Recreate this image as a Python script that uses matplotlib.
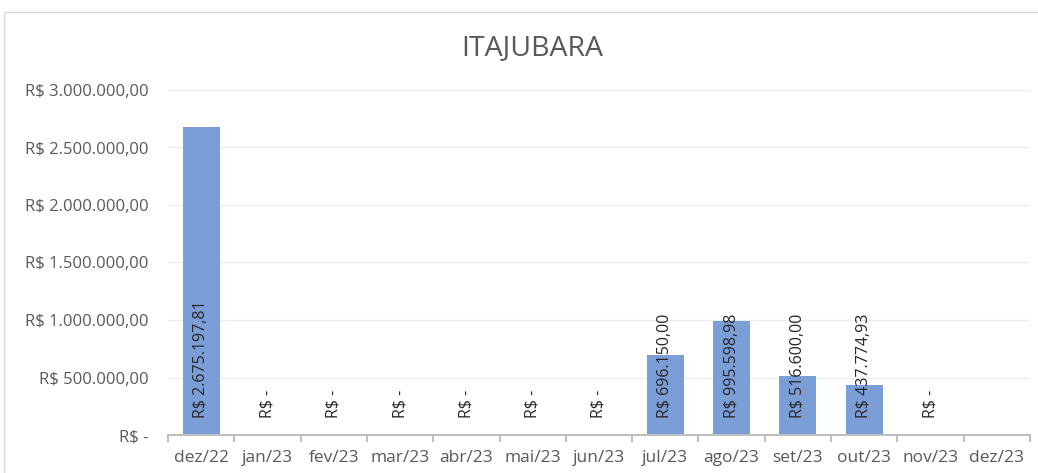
import numpy as np
import matplotlib.pyplot as plt
from matplotlib.patches import Rectangle
from matplotlib.ticker import FuncFormatter, FixedLocator

meses = ['dez/22', 'jan/23', 'fev/23', 'mar/23', 'abr/23', 'mai/23', 'jun/23',
         'jul/23', 'ago/23', 'set/23', 'out/23', 'nov/23', 'dez/23']
valores = [2675197.81, 0, 0, 0, 0, 0, 0, 696150.00, 995598.98, 516600.00,
           437774.93, 0, None]
yticks = [0, 500000, 1000000, 1500000, 2000000, 2500000, 3000000]


def brl(v):
    if v == 0:
        return 'R$ -'
    s = '{:,.2f}'.format(v)
    s = s.replace(',', 'X').replace('.', ',').replace('X', '.')
    return 'R$ ' + s


def main():
    plt.rcParams['font.family'] = ['Open Sans', 'DejaVu Sans']
    fig = plt.figure(figsize=(10.38, 4.73), dpi=100)
    fig.patches.append(Rectangle((4 / 1038, -0.01), 1.02, 1 - 12 / 473 + 0.01,
                                 transform=fig.transFigure, fill=False,
                                 edgecolor='#D9D9D9', linewidth=1))
    ax = fig.add_axes([168 / 1038, 38 / 473, 862 / 1038, 345 / 473])

    x = np.arange(len(meses))
    alturas = [v if v is not None else 0 for v in valores]
    ax.bar(x, alturas, width=0.56, color='#7C9ED7', zorder=2)

    for xi, v in zip(x, valores):
        if v is None:
            continue
        ax.annotate(brl(v), (xi, 0), xytext=(0, 12), textcoords='offset points',
                    rotation=90, ha='center', va='bottom',
                    fontsize=11.5, color='#262626', zorder=3)

    ax.set_xlim(-0.5, len(meses) - 0.5)
    ax.set_ylim(0, 3000000)
    ax.set_yticks(yticks)
    ax.yaxis.set_major_formatter(FuncFormatter(lambda v, p: brl(v)))
    ax.set_xticks(x)
    ax.set_xticklabels(meses)
    ax.xaxis.set_minor_locator(FixedLocator(np.arange(-0.5, len(meses), 1)))
    ax.tick_params(axis='x', which='major', length=0, labelsize=12.5,
                   labelcolor='#595959', pad=11)
    ax.tick_params(axis='x', which='minor', length=5, color='#BFBFBF', width=1.5)
    ax.tick_params(axis='y', length=0, labelsize=12, labelcolor='#595959', pad=14)

    ax.grid(axis='y', color='#EDEDED', linewidth=1, zorder=0)
    for s in ['top', 'right', 'left']:
        ax.spines[s].set_visible(False)
    ax.spines['bottom'].set_color('#BFBFBF')
    ax.spines['bottom'].set_linewidth(1.5)

    fig.text(532 / 1038, 1 - 48 / 473, 'ITAJUBARA', ha='center', va='center',
             fontsize=20.5, color='#595959')

    plt.savefig('out.png')
    plt.close()


if __name__ == "__main__":
    main()
